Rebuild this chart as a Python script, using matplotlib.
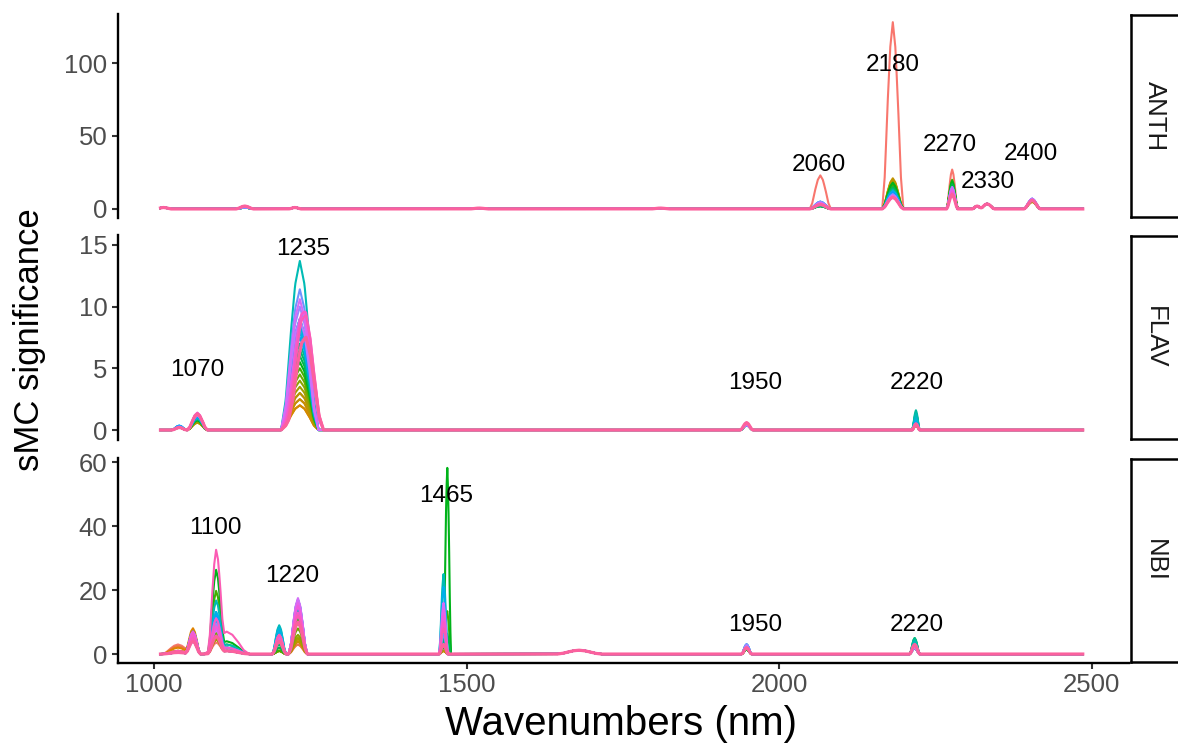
import numpy as np
import matplotlib
matplotlib.use("Agg")
import matplotlib.pyplot as plt

plt.rcParams['font.family'] = ['Liberation Sans', 'DejaVu Sans']

# ---------------- data ----------------
N_SERIES = 30
WAVE_START, WAVE_END, WAVE_STEP = 1010, 2486, 1

PANELS = ["ANTH", "FLAV", "NBI"]

# peak profile (relative shape of a band, offsets in half-widths)
PROFILE_OFFSETS = [-1.0, -0.75, -0.5, -0.25, 0.0, 0.25, 0.5, 0.75, 1.0]
PROFILE_SHAPE = [0.0, 0.18, 0.55, 0.86, 1.0, 0.86, 0.55, 0.18, 0.0]

# ANTH bands: centre, half-width, height per series
ANTH_CENTERS = [1015, 1145, 1225, 1520, 1810, 2066, 2182, 2277, 2317, 2333, 2405]
ANTH_WIDTHS = [12, 14, 10, 15, 15, 17, 17, 9, 8, 12, 13]
ANTH_HEIGHTS = [
    [1, 1, 1, 1, 1, 1, 1, 1, 1, 1, 1, 1, 1, 1, 1, 1, 1, 1, 1, 1, 1, 1, 1, 1, 1, 1, 1, 1, 1, 1],
    [1, 1, 1, 1, 1, 1, 1, 1, 1, 1, 1, 1, 1, 1, 1, 1, 1, 1, 1, 1, 1, 1, 1, 2, 2, 2, 2, 2, 2, 2],
    [1, 1, 1, 1, 1, 1, 1, 1, 1, 1, 1, 1, 1, 1, 1, 1, 1, 1, 1, 1, 1, 1, 1, 1, 1, 1, 1, 1, 1, 1],
    [0.6, 0.6, 0.6, 0.6, 0.6, 0.6, 0.6, 0.6, 0.6, 0.6, 0.6, 0.6, 0.6, 0.6, 0.6, 0.6, 0.6, 0.6, 0.6, 0.6, 0.6, 0.6, 0.6, 0.6, 0.6, 0.6, 0.6, 0.6, 0.6, 0.6],
    [0.6, 0.6, 0.6, 0.6, 0.6, 0.6, 0.6, 0.6, 0.6, 0.6, 0.6, 0.6, 0.6, 0.6, 0.6, 0.6, 0.6, 0.6, 0.6, 0.6, 0.6, 0.6, 0.6, 0.6, 0.6, 0.6, 0.6, 0.6, 0.6, 0.6],
    [23, 3, 3, 3, 3, 3, 2, 2, 2, 2, 2, 2, 2, 2, 3, 3, 3, 4, 5, 5, 4, 4, 5, 4, 4, 4, 3, 3, 3, 3],
    [128, 17, 19, 20, 21, 20, 18, 17, 16, 17, 18, 15, 14, 13, 13, 12, 12, 12, 12, 12, 11, 10, 10, 9, 9, 9, 8, 8, 8, 8],
    [27, 18, 18, 17, 16, 16, 17, 17, 18, 20, 19, 17, 15, 14, 13, 12, 12, 12, 12, 13, 14, 14, 15, 15, 14, 13, 12, 11, 10, 10],
    [2, 2, 2, 2, 2, 2, 2, 2, 2, 2, 2, 2, 2, 2, 2, 2, 2, 2, 2, 2, 2, 2, 2, 2, 2, 2, 2, 2, 2, 2],
    [3.5, 3.5, 3.5, 3.5, 3.5, 3.5, 3.5, 3.5, 3.5, 3.5, 3.5, 3.5, 3.5, 3.5, 3.5, 3.5, 3.5, 3.5, 3.5, 3.5, 3.5, 3.5, 3.5, 3.5, 3.5, 3.5, 3.5, 3.5, 3.5, 3.5],
    [5, 5, 5, 5, 5, 5, 6, 6, 6, 6, 6, 6, 6, 6, 6, 6, 6, 6, 6, 7, 7, 7, 7, 7, 7, 6, 6, 6, 6, 6],
]

FLAV_CENTERS = [1040, 1069, 1233, 1243, 1948, 2219]
FLAV_WIDTHS = [12, 16, 30, 28, 10, 6]
FLAV_HEIGHTS = [
    [0.2, 0.2, 0.2, 0.2, 0.2, 0.2, 0.2, 0.2, 0.2, 0.2, 0.2, 0.2, 0.2, 0.2, 0.2, 0.2, 0.3, 0.3, 0.35, 0.35, 0.35, 0.3, 0.2, 0.2, 0.2, 0.2, 0.2, 0.2, 0.2, 0.2],
    [0.8, 0.7, 0.7, 0.6, 0.6, 0.6, 0.7, 0.7, 0.8, 0.8, 0.8, 0.9, 0.9, 0.9, 1.0, 1.0, 1.0, 1.0, 1.1, 1.1, 1.1, 1.2, 1.2, 1.2, 1.3, 1.3, 1.4, 1.4, 1.3, 1.3],
    [3, 2.5, 2, 2, 2.5, 3, 3.5, 4, 4.5, 5, 5.5, 6, 6.5, 7, 8, 13.7, 9, 8.5, 8, 7.5, 9, 11.4, 10, 9, 10.6, 6, 5, 4, 3, 2],
    [0, 0, 0, 0, 0, 0, 0, 0, 0, 0, 0, 0, 0, 0, 0, 0, 0, 0, 0, 0, 0, 0, 0, 0, 0, 4, 5.5, 6.5, 7, 6],
    [0.5, 0.4, 0.4, 0.4, 0.4, 0.4, 0.4, 0.4, 0.4, 0.4, 0.4, 0.4, 0.4, 0.4, 0.4, 0.4, 0.4, 0.4, 0.4, 0.4, 0.4, 0.4, 0.4, 0.4, 0.5, 0.5, 0.5, 0.5, 0.6, 0.6],
    [0.4, 0.4, 0.4, 0.4, 0.4, 0.4, 0.4, 0.5, 0.6, 0.8, 1.0, 1.2, 1.3, 1.4, 1.6, 1.3, 1.0, 0.8, 0.7, 0.6, 0.6, 0.5, 0.5, 0.5, 0.5, 0.5, 0.5, 0.5, 0.5, 0.5],
]

NBI_CENTERS = [1038, 1062, 1099, 1116, 1200, 1230, 1463, 1469, 1680, 1948, 2217]
NBI_WIDTHS = [25, 12, 13, 36, 11, 15, 7, 6, 35, 8, 8]
NBI_HEIGHTS = [
    [3, 2.5, 2, 1, 1, 1, 0.5, 0.5, 0.5, 0.5, 0.5, 0.5, 0.5, 0.5, 0.5, 0.5, 0.5, 0.5, 0.5, 0.5, 0.5, 0.5, 0.5, 0.5, 0.5, 0.5, 0.5, 0.5, 1, 0.5],
    [5, 6, 8, 7, 6, 5, 5, 6, 7, 7, 6, 5, 5, 6, 6, 7, 7, 6, 5, 4, 4, 4, 5, 5, 6, 7, 7, 6, 5, 4],
    [3, 4, 5, 5, 4, 4, 4, 5, 6, 18, 24, 10, 8, 9, 11, 15, 12, 10, 12, 11, 10, 10, 9, 8, 7, 8, 8, 10, 28.5, 5],
    [1, 1, 1, 1, 1, 1, 1, 1, 1, 3, 4, 2, 1, 1, 2, 3, 2, 2, 2, 2, 1, 2, 1, 1, 1, 1, 1, 2, 7, 1],
    [1, 1, 1, 1, 1, 1, 1, 1, 1, 1, 2, 2, 3, 4, 6, 9, 8.5, 8, 7, 6, 5, 5, 4, 4, 5, 5, 6, 6, 6, 4],
    [3, 3, 4, 4, 4, 5, 5, 6, 8, 11, 12, 10, 10, 12, 14, 16, 17, 16, 17, 15, 15, 16, 16, 17, 17.5, 16, 15, 13, 12, 10],
    [1, 1, 1, 1, 1, 1, 2, 2, 3, 4, 2, 3, 4, 5, 8, 25, 12, 10, 21, 9, 7, 6, 8, 10, 16, 14, 12, 10, 8, 3],
    [0, 0, 0, 0, 0, 0, 0, 0, 0, 13, 58, 6, 0, 0, 0, 0, 0, 0, 0, 0, 0, 0, 0, 0, 0, 0, 0, 0, 0, 0],
    [1.2, 1.2, 1.2, 1.2, 1.2, 1.2, 1.2, 1.2, 1.2, 1.2, 1.2, 1.2, 1.2, 1.2, 1.2, 1.2, 1.2, 1.2, 1.2, 1.2, 1.2, 1.2, 1.2, 1.2, 1.2, 1.2, 1.2, 1.2, 1.2, 1.2],
    [1.5, 1.5, 1.5, 1.5, 1.5, 1.5, 1.5, 1.5, 1.5, 1.5, 1.5, 1.5, 2, 2, 2, 2.5, 2.5, 3, 3, 3, 3, 3, 3, 2.5, 2, 2, 2, 2, 2, 2],
    [2, 2, 2, 2, 2, 2, 2, 2, 2, 3, 4, 5, 4.5, 5, 4.5, 4, 3, 2, 2, 2, 2, 2, 2, 2, 2, 3, 3, 3, 3, 3],
]

# peak annotations
ANTH_LABELS = ["2060", "2180", "2270", "2330", "2400"]
ANTH_LABEL_X = [2064, 2182, 2274, 2334, 2403]
ANTH_LABEL_Y = [30, 98.5, 44, 18.5, 38]
FLAV_LABELS = ["1070", "1235", "1950", "2220"]
FLAV_LABEL_X = [1069, 1238, 1961, 2221]
FLAV_LABEL_Y = [4.9, 14.7, 3.8, 3.8]
NBI_LABELS = ["1100", "1220", "1465", "1950", "2220"]
NBI_LABEL_X = [1098, 1221, 1467, 1961, 2221]
NBI_LABEL_Y = [39.4, 24.5, 49.4, 9, 9]

Y_LIMITS = {"ANTH": (-6.2, 133.6), "FLAV": (-0.81, 15.8), "NBI": (-2.8, 61.3)}
Y_TICKS = {"ANTH": [0, 50, 100], "FLAV": [0, 5, 10, 15], "NBI": [0, 20, 40, 60]}
X_TICKS = [1000, 1500, 2000, 2500]
X_LIMITS = (942, 2560)


# ---------------- helpers ----------------
def hcl_hex(h, c=100.0, l=65.0):
    hr = np.deg2rad(h)
    U, V = c * np.cos(hr), c * np.sin(hr)
    Xn, Yn, Zn = 95.047, 100.0, 108.883
    Y = Yn * ((l + 16) / 116) ** 3 if l > 8 else Yn * l / 903.3
    d = Xn + 15 * Yn + 3 * Zn
    u0, v0 = 4 * Xn / d, 9 * Yn / d
    u = U / (13 * l) + u0
    v = V / (13 * l) + v0
    X = 9.0 * Y * u / (4 * v)
    Z = -X / 3 - 5 * Y + 3 * Y / v
    xyz = np.array([X, Y, Z]) / 100.0
    M = np.array([[3.240479, -1.537150, -0.498535],
                  [-0.969256, 1.875992, 0.041556],
                  [0.055648, -0.204043, 1.057311]])
    rgb = M @ xyz
    rgb = np.where(rgb <= 0.0031308, 12.92 * rgb, 1.055 * np.power(np.clip(rgb, 0, None), 1 / 2.4) - 0.055)
    rgb = np.clip(rgb, 0, 1)
    return tuple(rgb)


def hue_palette(n, h_start=15, h_end=352, l=63):
    hues = np.linspace(h_start, h_end, n)
    return [hcl_hex(h, l=l) for h in hues]


def series_curve(x, centers, widths, heights, s):
    y = np.zeros_like(x, dtype=float)
    off = np.array(PROFILE_OFFSETS)
    shp = np.array(PROFILE_SHAPE)
    for c, w, hs in zip(centers, widths, heights):
        y += hs[s] * np.interp(x, c + off * w, shp, left=0, right=0)
    return y


# ---------------- figure ----------------
W, H = 1178, 747
fig = plt.figure(figsize=(W / 100, H / 100), dpi=100)

def px_axes(left, top, right, bottom):
    return fig.add_axes([left / W, 1 - bottom / H, (right - left) / W, (bottom - top) / H])

panel_px = {"ANTH": (14, 218), "FLAV": (235, 440), "NBI": (458, 663)}
data = {
    "ANTH": (ANTH_CENTERS, ANTH_WIDTHS, ANTH_HEIGHTS, ANTH_LABELS, ANTH_LABEL_X, ANTH_LABEL_Y),
    "FLAV": (FLAV_CENTERS, FLAV_WIDTHS, FLAV_HEIGHTS, FLAV_LABELS, FLAV_LABEL_X, FLAV_LABEL_Y),
    "NBI": (NBI_CENTERS, NBI_WIDTHS, NBI_HEIGHTS, NBI_LABELS, NBI_LABEL_X, NBI_LABEL_Y),
}

x = np.arange(WAVE_START, WAVE_END + 1, WAVE_STEP, dtype=float)
colors = hue_palette(N_SERIES)
colors[0] = hcl_hex(15, l=65)
axis_lw = 1.7
tick_col = "#333333"

for name in PANELS:
    top, bottom = panel_px[name]
    ax = px_axes(118, top, 1129, bottom)
    centers, widths, heights, labels, lx, ly = data[name]
    for s in range(N_SERIES):
        ax.plot(x, series_curve(x, centers, widths, heights, s), color=colors[s],
                lw=2.3 if s == N_SERIES - 1 else 1.5, solid_joinstyle="round")
    for t, tx, ty in zip(labels, lx, ly):
        ax.text(tx, ty, t, ha="center", va="center", fontsize=17.5, color="black")
    ax.set_xlim(*X_LIMITS)
    ax.set_ylim(*Y_LIMITS[name])
    ax.set_yticks(Y_TICKS[name])
    ax.set_yticklabels([str(v) for v in Y_TICKS[name]])
    for sp in ["top", "right"]:
        ax.spines[sp].set_visible(False)
    ax.spines["left"].set_linewidth(axis_lw)
    ax.spines["bottom"].set_linewidth(axis_lw)
    ax.tick_params(axis="both", length=4.5, width=1.5, color=tick_col, labelsize=18.5,
                   labelcolor="#4D4D4D", pad=3)
    if name != "NBI":
        ax.spines["bottom"].set_visible(False)
        ax.set_xticks([])
    else:
        ax.set_xticks(X_TICKS)
        ax.set_xticklabels([str(v) for v in X_TICKS])
    ax.patch.set_alpha(0)

    # facet strip
    sax = px_axes(1131, top + 1, 1185, bottom - 1)
    sax.set_xticks([])
    sax.set_yticks([])
    for sp in sax.spines.values():
        sp.set_linewidth(1.8)
        sp.set_color("black")
    sax.text(0.45, 0.5, name, rotation=-90, ha="center", va="center",
             fontsize=18.5, color="#1A1A1A", transform=sax.transAxes)

fig.text(30 / W, 1 - 340 / H, "sMC significance", rotation=90, ha="center", va="center",
         fontsize=25, color="black")
fig.text(621 / W, 1 - 724 / H, "Wavenumbers (nm)", ha="center", va="center",
         fontsize=29, color="black")

fig.savefig("out.png", dpi=100)
